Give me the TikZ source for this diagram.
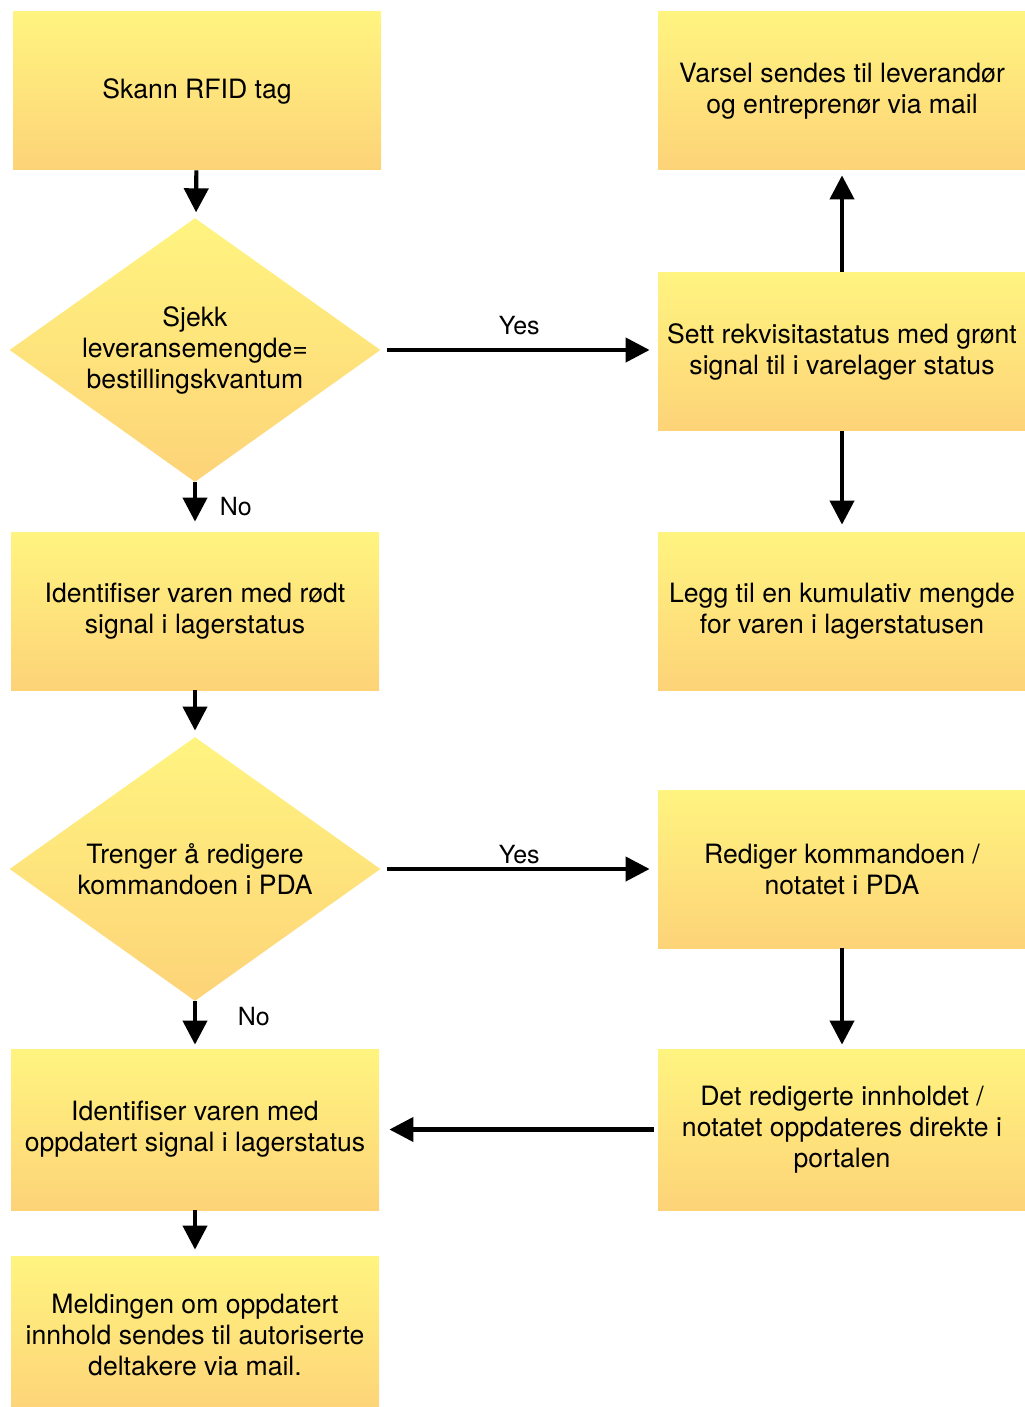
\documentclass[tikz,border=0pt]{standalone}
\usepackage{fontspec}
\setmainfont{TeX Gyre Heros}
\usetikzlibrary{arrows.meta, positioning, shapes.geometric}
\definecolor{boxtop}{RGB}{255,244,128}
\definecolor{boxbot}{RGB}{253,211,120}

\begin{document}
\begin{tikzpicture}[
    x=0.5pt, y=-0.5pt,
    stp/.style={inner sep=2pt, align=center, font=\fontsize{13.3}{15.5}\selectfont,
                top color=boxtop, bottom color=boxbot,
                minimum width=184pt, minimum height=79pt},
    dec/.style={stp, shape=diamond, inner sep=0pt, aspect=1.4,
                minimum width=185.5pt, minimum height=132pt},
    flow/.style={-{Triangle[length=12pt, width=12pt]}, line width=2.1pt,
                 shorten >=3pt},
    lbl/.style={font=\fontsize{12.5}{15}\selectfont},
]
\useasboundingbox (0,0) rectangle (1024,1407);
% left column
\node[stp] (scan) at (197,91) {Skann RFID tag};
\node[dec] (check) at (195,350) {Sjekk\\ leveransemengde=\\ bestillingskvantum};
\node[stp] (red) at (195,611) {Identifiser varen med rødt\\ signal i lagerstatus};
\node[dec] (edit) at (195,869) {Trenger å redigere\\ kommandoen i PDA};
\node[stp, minimum height=80.5pt] (upd) at (195,1129.5) {Identifiser varen med\\ oppdatert signal i lagerstatus};
\node[stp] (msg) at (195,1335) {Meldingen om oppdatert\\ innhold sendes til autoriserte\\ deltakere via mail.};
% right column
\node[stp] (warn) at (842,91) {Varsel sendes til leverandør\\ og entreprenør via mail};
\node[stp] (green) at (842,351.5) {Sett rekvisitastatus med grønt\\ signal til i varelager status};
\node[stp] (cum) at (842,611) {Legg til en kumulativ mengde\\ for varen i lagerstatusen};
\node[stp] (redit) at (842,869) {Rediger kommandoen /\\ notatet i PDA};
\node[stp, minimum height=80.5pt] (portal) at (842,1129.5) {Det redigerte innholdet /\\ notatet oppdateres direkte i\\ portalen};
% connectors
\draw[flow] (scan) -- (check);
\draw[flow, shorten >=5pt] (check) -- node[lbl, right=8pt]{No} (red);
\draw[flow, shorten <=3pt, shorten >=4pt] (check) -- node[lbl, above=3pt]{Yes} (check -| green.west);
\draw[flow, shorten >=2.5pt] (green) -- (warn);
\draw[flow, shorten >=3.5pt] (green) -- (cum);
\draw[flow] (red) -- (edit);
\draw[flow, shorten <=3pt, shorten >=4pt] (edit) -- node[lbl, above=-2pt]{Yes} (redit);
\draw[flow, shorten >=2pt] (edit) -- node[lbl, right=17pt, yshift=4pt]{No} (upd);
\draw[flow, shorten >=2pt] (redit) -- (portal);
\draw[flow, shorten <=2pt, shorten >=5pt] (portal) -- (upd);
\draw[flow] (upd) -- (msg);
\end{tikzpicture}
\end{document}
